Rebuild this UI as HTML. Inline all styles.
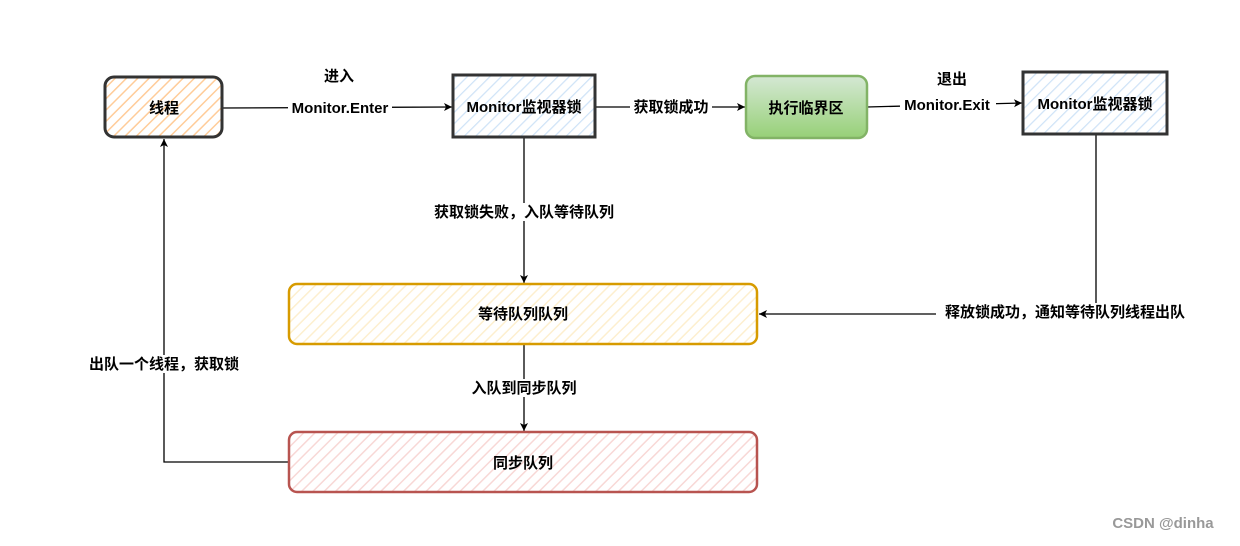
<!DOCTYPE html>
<html><head><meta charset="utf-8"><style>
body{margin:0;background:#fff;width:1240px;height:541px;overflow:hidden}
text{font-family:"Liberation Sans","Noto Sans CJK SC",sans-serif;font-weight:bold;font-size:15px;fill:#000}
</style></head><body>
<svg width="1240" height="541" xmlns="http://www.w3.org/2000/svg">
<defs>
<pattern id="ho" width="8" height="8" patternUnits="userSpaceOnUse" patternTransform="rotate(45)"><rect width="8" height="8" fill="#fff"/><line x1="0" y1="0" x2="0" y2="8" stroke="#ffcc99" stroke-width="3"/></pattern>
<pattern id="hb" width="8" height="8" patternUnits="userSpaceOnUse" patternTransform="rotate(45)"><rect width="8" height="8" fill="#fff"/><line x1="0" y1="0" x2="0" y2="8" stroke="#cfe3f7" stroke-width="2.5"/></pattern>
<pattern id="hy" width="8" height="8" patternUnits="userSpaceOnUse" patternTransform="rotate(45)"><rect width="8" height="8" fill="#fff"/><line x1="0" y1="0" x2="0" y2="8" stroke="#fdefcf" stroke-width="3"/></pattern>
<pattern id="hr" width="8" height="8" patternUnits="userSpaceOnUse" patternTransform="rotate(45)"><rect width="8" height="8" fill="#fff"/><line x1="0" y1="0" x2="0" y2="8" stroke="#f8d8d6" stroke-width="3"/></pattern>
<linearGradient id="gg" x1="0" y1="0" x2="0" y2="1"><stop offset="0" stop-color="#d5e8d4"/><stop offset="1" stop-color="#97d077"/></linearGradient>
<marker id="a" markerWidth="10" markerHeight="10" refX="9" refY="5" orient="auto" markerUnits="userSpaceOnUse"><path d="M1,1 L9,5 L1,9 L3,5 Z" fill="#000"/></marker>
</defs>
<g stroke="#000" stroke-width="1.3" fill="none">
<line x1="222" y1="108" x2="452" y2="107" marker-end="url(#a)"/>
<line x1="595" y1="107" x2="745" y2="107" marker-end="url(#a)"/>
<line x1="867" y1="107" x2="1022" y2="103" marker-end="url(#a)"/>
<line x1="524" y1="137" x2="524" y2="283" marker-end="url(#a)"/>
<polyline points="1096,134 1096,314 759,314" marker-end="url(#a)"/>
<line x1="524" y1="344" x2="524" y2="431" marker-end="url(#a)"/>
<polyline points="289,462 164,462 164,139" marker-end="url(#a)"/>
</g>
<rect x="105" y="77" width="117" height="60" rx="9" fill="url(#ho)" stroke="#333" stroke-width="3"/>
<rect x="453" y="75" width="142" height="62" fill="url(#hb)" stroke="#333" stroke-width="3"/>
<rect x="746" y="76" width="121" height="62" rx="9" fill="url(#gg)" stroke="#82b366" stroke-width="2.5"/>
<rect x="1023" y="72" width="144" height="62" fill="url(#hb)" stroke="#333" stroke-width="3"/>
<rect x="289" y="284" width="468" height="60" rx="8" fill="url(#hy)" stroke="#d79b00" stroke-width="2.5"/>
<rect x="289" y="432" width="468" height="60" rx="8" fill="url(#hr)" stroke="#b85450" stroke-width="2.5"/>
<g text-anchor="middle">
<text x="164" y="113" font-size="16">线程</text>
<text x="524" y="112">Monitor监视器锁</text>
<text x="806" y="113" font-size="16">执行临界区</text>
<text x="1095" y="109">Monitor监视器锁</text>
<text x="523" y="319" font-weight="normal">等待队列队列</text>
<text x="523" y="468" font-weight="normal">同步队列</text>
<text x="339" y="81">进入</text>
<rect x="288" y="99" width="104" height="18" fill="#fff"/>
<text x="340" y="113">Monitor.Enter</text>
<rect x="630" y="98" width="82" height="18" fill="#fff"/>
<text x="671" y="112">获取锁成功</text>
<text x="952" y="84">退出</text>
<rect x="900" y="96" width="96" height="18" fill="#fff"/>
<text x="947" y="110">Monitor.Exit</text>
<rect x="428" y="203" width="192" height="18" fill="#fff"/>
<text x="524" y="217">获取锁失败，入队等待队列</text>
<rect x="936" y="303" width="258" height="18" fill="#fff"/>
<text x="1065" y="317">释放锁成功，通知等待队列线程出队</text>
<rect x="468" y="379" width="112" height="18" fill="#fff"/>
<text x="524" y="393">入队到同步队列</text>
<rect x="84" y="355" width="162" height="18" fill="#fff"/>
<text x="164" y="369">出队一个线程，获取锁</text>
<text x="1163" y="528" font-weight="normal" font-size="14" style="fill:#999">CSDN @dinha</text>
</g>
</svg>
</body></html>
